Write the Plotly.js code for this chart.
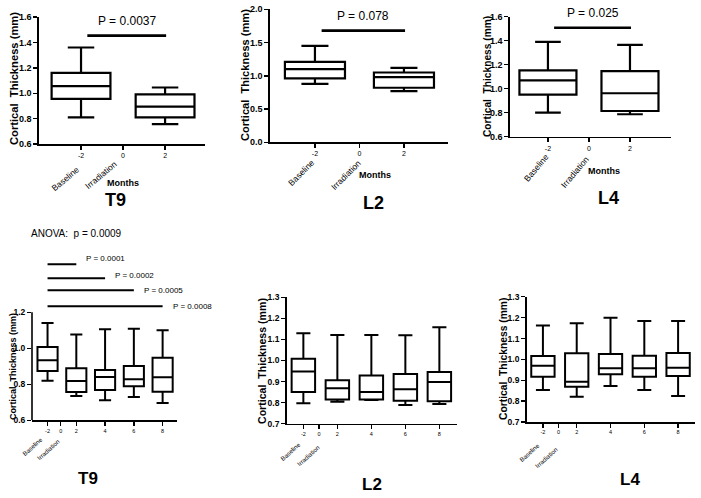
<!DOCTYPE html>
<html><head><meta charset="utf-8">
<script src="https://cdn.plot.ly/plotly-3.0.1.min.js"></script>
<style>html,body{margin:0;padding:0;background:#fff}</style>
</head><body><div id="chart" style="width:701px;height:498px"></div>
<script>
// ---------- DATA ----------
// Top row: Baseline (-2 months) vs 2 months after irradiation
const topMonths = [-2, 2];
const topTicks = [-2, 0, 2];
const t9TopMax = [1.36, 1.045];
const t9TopQ3  = [1.16, 0.99];
const t9TopMed = [1.055, 0.895];
const t9TopQ1  = [0.955, 0.81];
const t9TopMin = [0.81, 0.757];

const l2TopMax = [1.45, 1.12];
const l2TopQ3  = [1.21, 1.05];
const l2TopMed = [1.10, 0.98];
const l2TopQ1  = [0.96, 0.82];
const l2TopMin = [0.88, 0.77];

const l4TopMax = [1.39, 1.365];
const l4TopQ3  = [1.153, 1.147];
const l4TopMed = [1.07, 0.962];
const l4TopQ1  = [0.95, 0.814];
const l4TopMin = [0.80, 0.787];

const topPLabels = ["P = 0.0037", "P = 0.078", "P = 0.025"];
const topPY = [1.453, 1.68, 1.508];
const topPFrom = -1.7, topPTo = 2.05;

// Bottom row: Baseline, 2, 4, 6, 8 months
const botMonths = ["-2", "2", "4", "6", "8"];
const botTickText = ["-2", "0", "2", "4", "6", "8"];
const t9BotMax = [1.14, 1.076, 1.106, 1.109, 1.10];
const t9BotQ3  = [1.007, 0.889, 0.879, 0.902, 0.948];
const t9BotMed = [0.933, 0.818, 0.84, 0.828, 0.839];
const t9BotQ1  = [0.874, 0.757, 0.768, 0.789, 0.759];
const t9BotMin = [0.82, 0.735, 0.711, 0.729, 0.696];

const l2BotMax = [1.129, 1.121, 1.121, 1.12, 1.157];
const l2BotQ3  = [1.008, 0.906, 0.929, 0.936, 0.945];
const l2BotMed = [0.947, 0.868, 0.85, 0.863, 0.898];
const l2BotQ1  = [0.85, 0.815, 0.815, 0.809, 0.806];
const l2BotMin = [0.797, 0.804, 0.812, 0.789, 0.793];

const l4BotMax = [1.162, 1.173, 1.2, 1.184, 1.184];
const l4BotQ3  = [1.016, 1.029, 1.026, 1.018, 1.031];
const l4BotMed = [0.969, 0.893, 0.957, 0.957, 0.96];
const l4BotQ1  = [0.917, 0.869, 0.929, 0.917, 0.921];
const l4BotMin = [0.853, 0.821, 0.873, 0.853, 0.825];

const t9PairTo = ["2", "4", "6", "8"];
const t9PairY = [1.467, 1.389, 1.322, 1.233];
const t9PairP = ["P = 0.0001", "P = 0.0002", "P = 0.0005", "P = 0.0008"];
const anovaText = "ANOVA:  p = 0.0009";

const panelNames = ["T9", "L2", "L4", "T9", "L2", "L4"];
const yTitle = "Cortical  Thickness (mm)";
const xTitle = "Months";

// ---------- LAYOUT HELPERS ----------
const W = 701, H = 498;
const FONT = "Liberation Sans, Arial, sans-serif";
const px = x => x / W, py = y => 1 - y / H;
const slot = m => botMonths.indexOf(m);
const zeroSlot = 0.46;
const keepSpaces = t => t.replace(/  /g, ' &nbsp;');

const panels = [
  {xd:[39,205], yd:[17,144], xr:[-4,3.9], yr:[0.6,1.6], yt:[0.6,0.8,1.0,1.2,1.4,1.6], bw:2.8,
   stats:[t9TopMin,t9TopQ1,t9TopMed,t9TopQ3,t9TopMax], top:true,
   ytl:[14,79,11.2], mon:[123,183], name:[115,200], base:[65,179], irr:[101,175], ang:-40},
  {xd:[270,448], yd:[9.3,142.3], xr:[-4.02,3.98], yr:[0,2], yt:[0,0.5,1.0,1.5,2.0], bw:2.7,
   stats:[l2TopMin,l2TopQ1,l2TopMed,l2TopQ3,l2TopMax], top:true,
   ytl:[245,75,11.1], mon:[375,175], name:[373,203], base:[301,173], irr:[346,175], ang:-45},
  {xd:[510,671], yd:[16.7,136.7], xr:[-3.85,4], yr:[0.6,1.6], yt:[0.6,0.8,1.0,1.2,1.4,1.6], bw:2.78,
   stats:[l4TopMin,l4TopQ1,l4TopMed,l4TopQ3,l4TopMax], top:true,
   ytl:[487,77,10.2], mon:[604,171], name:[608,198], base:[536,168], irr:[575,172], ang:-50},
  {xd:[32,177], yd:[258.3,420.3], xr:[-0.54,4.5], yr:[0.6,1.5], yt:[0.6,0.8,1.0,1.2], bw:0.7,
   stats:[t9BotMin,t9BotQ1,t9BotMed,t9BotQ3,t9BotMax], top:false, ext:true,
   ytl:[13,367,9], name:[88,478], base:[32,446], irr:[48,449], ang:-42},
  {xd:[286.7,456.7], yd:[297.2,423.7], xr:[-0.49,4.51], yr:[0.7,1.3], yt:[0.7,0.8,0.9,1.0,1.1,1.2,1.3], bw:0.69,
   stats:[l2BotMin,l2BotQ1,l2BotMed,l2BotQ3,l2BotMax], top:false,
   ytl:[262,361,10.6], name:[372,484], base:[290,451], irr:[308,455], ang:-42},
  {xd:[526.7,695], yd:[296.8,422], xr:[-0.48,4.5], yr:[0.7,1.3], yt:[0.7,0.8,0.9,1.0,1.1,1.2,1.3], bw:0.69,
   stats:[l4BotMin,l4BotQ1,l4BotMed,l4BotQ3,l4BotMax], top:false,
   ytl:[503,359,10.3], name:[630,479], base:[529,452], irr:[546,457], ang:-42},
];

const traces = [], annotations = [], shapes = [];
const layout = {
  width: W, height: H, margin:{l:0,r:0,t:0,b:0}, showlegend:false,
  paper_bgcolor:'#fff', plot_bgcolor:'#fff',
  font:{family:FONT, color:'#000'}, annotations, shapes
};

function ann(x, y, text, size, opts) {
  annotations.push(Object.assign({xref:'paper', yref:'paper', x:px(x), y:py(y), text,
    showarrow:false, xanchor:'center', yanchor:'middle', font:{family:FONT, size, color:'#000'}}, opts||{}));
}

panels.forEach((p, i) => {
  const s = i === 0 ? '' : String(i + 1);
  const xa = 'x' + s, ya = 'y' + s;
  const xs = p.top ? topMonths : botMonths.map(slot);
  layout['xaxis' + s] = {
    domain:[px(p.xd[0]), px(p.xd[1])], range:p.xr, anchor:ya,
    showline:true, linecolor:'#000', linewidth:1.6, ticks:'outside', ticklen:4, tickwidth:1.4, tickcolor:'#000',
    tickmode:'array',
    tickvals: p.top ? topTicks : [0, zeroSlot, 1, 2, 3, 4],
    ticktext: p.top ? topTicks.map(String) : botTickText,
    tickfont:{size: p.top ? 7 : 5.5, color:'#000', family:FONT},
    showgrid:false, zeroline:false, fixedrange:true
  };
  layout['yaxis' + s] = {
    domain:[py(p.yd[1]), py(p.yd[0])], range:p.yr, anchor:xa,
    showline:!p.ext, linecolor:'#000', linewidth:1.6, ticks:'outside', ticklen:4, tickwidth:1.4, tickcolor:'#000',
    tickmode:'array', tickvals:p.yt, ticktext:p.yt.map(v => v.toFixed(1)),
    tickfont:{size: p.top ? 9 : 8.5, color:'#000', family:FONT, weight:'bold'},
    showgrid:false, zeroline:false, fixedrange:true
  };
  if (p.ext) {
    shapes.push({type:'line', xref:xa + ' domain', yref:ya, x0:0, x1:0, y0:p.yt[0], y1:p.yt[p.yt.length-1],
      line:{color:'#000', width:1.6}});
  }
  traces.push({
    type:'box', xaxis:xa, yaxis:ya, x:xs,
    lowerfence:p.stats[0], q1:p.stats[1], median:p.stats[2], q3:p.stats[3], upperfence:p.stats[4],
    width:p.bw, whiskerwidth: p.top ? 0.45 : 0.6, fillcolor:'#fff',
    line:{color:'#000', width: p.top ? 2.2 : 2}, boxpoints:false, hoverinfo:'skip'
  });
  // texts
  ann(p.ytl[0], p.ytl[1], '<b>' + keepSpaces(yTitle) + '</b>', p.ytl[2], {textangle:-90});
  ann(p.name[0], p.name[1], '<b>' + panelNames[i] + '</b>', p.top ? 18 : 17);
  ann(p.base[0], p.base[1], 'Baseline', p.top ? 8.5 : 6.2, {textangle:p.ang});
  ann(p.irr[0], p.irr[1], 'Irradiation', p.top ? 8.5 : 6.2, {textangle:p.ang});
  if (p.top) {
    ann(p.mon[0], p.mon[1], '<b>' + xTitle + '</b>', 9);
    traces.push({type:'scatter', mode:'lines', xaxis:xa, yaxis:ya, x:[topPFrom, topPTo], y:[topPY[i], topPY[i]],
      line:{color:'#000', width:2.6}, hoverinfo:'skip'});
    annotations.push({xref:xa, yref:ya, x:(topPFrom + topPTo) / 2, y:topPY[i], text:topPLabels[i],
      showarrow:false, yanchor:'bottom', yshift:6, font:{family:FONT, size:12, color:'#000'}});
  }
  if (p.ext) {
    t9PairTo.forEach((m, k) => {
      traces.push({type:'scatter', mode:'lines', xaxis:xa, yaxis:ya, x:[slot(botMonths[0]), slot(m)],
        y:[t9PairY[k], t9PairY[k]], line:{color:'#000', width:2}, hoverinfo:'skip'});
      annotations.push({xref:xa, yref:ya, x:slot(m), y:t9PairY[k], text:t9PairP[k], showarrow:false,
        xanchor:'left', xshift:8, yshift:[6,3,0,0][k], font:{family:FONT, size:8, color:'#000'}});
    });
    ann(76, 233, keepSpaces(anovaText), 10);
  }
});

Plotly.newPlot('chart', traces, layout, {displayModeBar:false, staticPlot:true});
</script></body></html>
